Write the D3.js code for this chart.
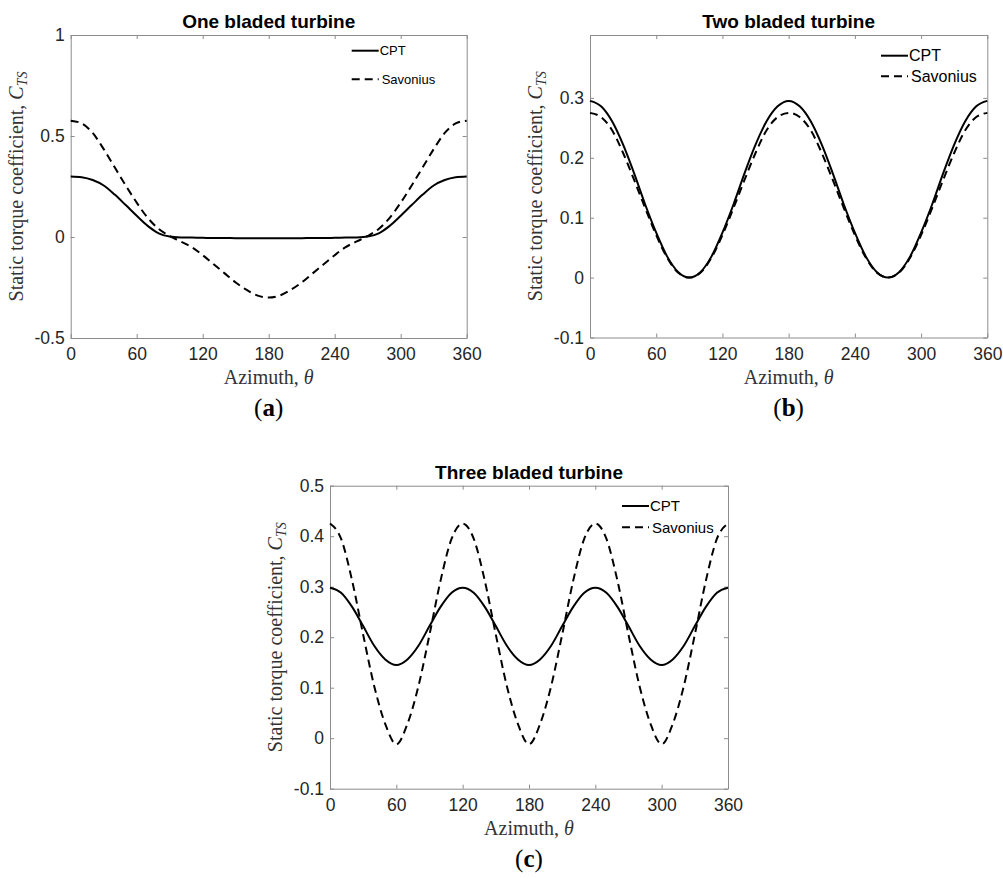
<!DOCTYPE html>
<html>
<head>
<meta charset="utf-8">
<script src="https://cdn.jsdelivr.net/npm/d3@7"></script>
<style>
  body { margin: 0; background: #fff; }
  .tick text { font-family: "Liberation Sans", Arial, sans-serif; fill: #262626; }
  .domain { stroke: #8c8c8c; }
  .tick line { stroke: #8c8c8c; }
</style>
</head>
<body>
<div id="chart"></div>
<script>
// azimuth angle (deg), sampled every 10 degrees
let azimuth = [0, 10, 20, 30, 40, 50, 60, 70, 80, 90, 100, 110, 120, 130, 140, 150, 160, 170, 180,
    190, 200, 210, 220, 230, 240, 250, 260, 270, 280, 290, 300, 310, 320, 330, 340, 350, 360];

// one bladed turbine
let cptOne = [0.300, 0.296, 0.282, 0.255, 0.210, 0.158, 0.105, 0.055, 0.018, 0.002, -0.002, -0.003, -0.004,
    -0.005, -0.005, -0.006, -0.006, -0.006, -0.006, -0.006, -0.006, -0.006, -0.005, -0.005, -0.004, -0.003,
    -0.002, 0.002, 0.018, 0.055, 0.105, 0.158, 0.210, 0.255, 0.282, 0.296, 0.300];
let savOne = [0.576, 0.562, 0.515, 0.435, 0.345, 0.255, 0.170, 0.095, 0.040, 0.005, -0.022, -0.050, -0.090,
    -0.135, -0.180, -0.225, -0.262, -0.290, -0.300, -0.290, -0.262, -0.225, -0.180, -0.135, -0.090, -0.050,
    -0.022, 0.005, 0.040, 0.095, 0.170, 0.255, 0.345, 0.435, 0.515, 0.562, 0.576];

// two bladed turbine
let cptTwo = [0.295, 0.286, 0.261, 0.222, 0.174, 0.122, 0.075, 0.035, 0.009, 0.000, 0.009, 0.035, 0.075,
    0.122, 0.174, 0.222, 0.261, 0.286, 0.295, 0.286, 0.261, 0.222, 0.174, 0.122, 0.075, 0.035, 0.009,
    0.000, 0.009, 0.035, 0.075, 0.122, 0.174, 0.222, 0.261, 0.286, 0.295];
let savTwo = [0.275, 0.268, 0.246, 0.208, 0.163, 0.116, 0.071, 0.033, 0.008, 0.000, 0.008, 0.033, 0.071,
    0.116, 0.163, 0.208, 0.246, 0.268, 0.275, 0.268, 0.246, 0.208, 0.163, 0.116, 0.071, 0.033, 0.008,
    0.000, 0.008, 0.033, 0.071, 0.116, 0.163, 0.208, 0.246, 0.268, 0.275];

// three bladed turbine
let cptThree = [0.298, 0.288, 0.260, 0.222, 0.183, 0.156, 0.145, 0.156, 0.183, 0.222, 0.260, 0.288, 0.298,
    0.288, 0.260, 0.222, 0.183, 0.156, 0.145, 0.156, 0.183, 0.222, 0.260, 0.288, 0.298,
    0.288, 0.260, 0.222, 0.183, 0.156, 0.145, 0.156, 0.183, 0.222, 0.260, 0.288, 0.298];
let savThree = [0.425, 0.395, 0.312, 0.205, 0.103, 0.028, -0.012, 0.028, 0.103, 0.205, 0.312, 0.395, 0.425,
    0.395, 0.312, 0.205, 0.103, 0.028, -0.012, 0.028, 0.103, 0.205, 0.312, 0.395, 0.425,
    0.395, 0.312, 0.205, 0.103, 0.028, -0.012, 0.028, 0.103, 0.205, 0.312, 0.395, 0.425];

let xTicks = [0, 60, 120, 180, 240, 300, 360];
let yTicksOne = [-0.5, 0, 0.5, 1];
let yTicksTwo = [-0.1, 0, 0.1, 0.2, 0.3];
let yTicksThree = [-0.1, 0, 0.1, 0.2, 0.3, 0.4, 0.5];
let titles = ["One bladed turbine", "Two bladed turbine", "Three bladed turbine"];
let tags = ["a", "b", "c"];
let seriesNames = ["CPT", "Savonius"];

let width = 1003;
let height = 879;

let panels = [
    { title: titles[0], tag: tags[0], cpt: cptOne, sav: savOne, yDomain: [-0.5, 1], yTicks: yTicksOne,
      left: 70.7, right: 466.7, top: 35, bottom: 338, leg: { x: 351.7, y: 50.7, gap: 28.6, size: 13 } },
    { title: titles[1], tag: tags[1], cpt: cptTwo, sav: savTwo, yDomain: [-0.1, 0.405], yTicks: yTicksTwo,
      left: 590, right: 987.3, top: 35, bottom: 337.5, leg: { x: 881, y: 55.7, gap: 20.6, size: 16 } },
    { title: titles[2], tag: tags[2], cpt: cptThree, sav: savThree, yDomain: [-0.1, 0.5], yTicks: yTicksThree,
      left: 330, right: 728, top: 485.7, bottom: 788.7, leg: { x: 622, y: 506, gap: 21.3, size: 15 } }
];

let svg = d3.select("#chart")
    .append("svg")
    .attr("width", width)
    .attr("height", height)
    .style("background", "#fff");

const drawPanel = (p) => {
    let x = d3.scaleLinear().domain([0, 360]).range([p.left, p.right]);
    let y = d3.scaleLinear().domain(p.yDomain).range([p.bottom, p.top]);
    let g = svg.append("g");
    let fmt = d => String(d);

    g.append("g")
        .attr("transform", `translate(0,${p.bottom})`)
        .call(d3.axisBottom(x).tickValues(xTicks).tickFormat(fmt).tickSizeInner(-4).tickSizeOuter(0).tickPadding(10))
        .call(a => a.selectAll("text").style("font-size", "17.5px"));
    g.append("g")
        .attr("transform", `translate(0,${p.top})`)
        .call(d3.axisTop(x).tickValues(xTicks).tickFormat("").tickSizeInner(-4).tickSizeOuter(0));
    g.append("g")
        .attr("transform", `translate(${p.left},0)`)
        .call(d3.axisLeft(y).tickValues(p.yTicks).tickFormat(fmt).tickSizeInner(-4).tickSizeOuter(0).tickPadding(6))
        .call(a => a.selectAll("text").style("font-size", "17.5px"));
    g.append("g")
        .attr("transform", `translate(${p.right},0)`)
        .call(d3.axisRight(y).tickValues(p.yTicks).tickFormat("").tickSizeInner(-4).tickSizeOuter(0));

    let line = d3.line()
        .x((d, i) => x(azimuth[i]))
        .y(d => y(d))
        .curve(d3.curveMonotoneX);

    g.append("path").datum(p.cpt)
        .attr("d", line).attr("fill", "none").attr("stroke", "#000").attr("stroke-width", 2);
    g.append("path").datum(p.sav)
        .attr("d", line).attr("fill", "none").attr("stroke", "#000").attr("stroke-width", 2)
        .attr("stroke-dasharray", "8,5");

    // title
    g.append("text")
        .attr("x", (p.left + p.right) / 2).attr("y", p.top - 7)
        .attr("text-anchor", "middle")
        .style("font-family", "'Liberation Sans', Arial, sans-serif")
        .style("font-weight", "bold").style("font-size", "19px")
        .text(p.title);

    // x label
    let xl = g.append("text")
        .attr("x", (p.left + p.right) / 2).attr("y", p.bottom + 46)
        .attr("text-anchor", "middle")
        .style("font-family", "'Liberation Serif', 'Times New Roman', serif")
        .style("font-size", "20px").attr("fill", "#333");
    xl.append("tspan").text("Azimuth, ");
    xl.append("tspan").style("font-style", "italic").text("θ");

    // y label
    let cy = (p.top + p.bottom) / 2;
    let yl = g.append("text")
        .attr("transform", `translate(${p.left - 48},${cy}) rotate(-90)`)
        .attr("text-anchor", "middle")
        .style("font-family", "'Liberation Serif', 'Times New Roman', serif")
        .style("font-size", "20px").attr("fill", "#333");
    yl.append("tspan").text("Static torque coefficient, ");
    yl.append("tspan").style("font-style", "italic").text("C");
    yl.append("tspan").style("font-style", "italic").style("font-size", "14px").attr("dy", 4).text("TS");

    // legend
    seriesNames.forEach((name, i) => {
        let ly = p.leg.y + i * p.leg.gap;
        g.append("line")
            .attr("x1", p.leg.x).attr("x2", p.leg.x + 27)
            .attr("y1", ly).attr("y2", ly)
            .attr("stroke", "#000").attr("stroke-width", 2)
            .attr("stroke-dasharray", i === 1 ? "8,5" : null);
        g.append("text")
            .attr("x", p.leg.x + 28 + i * 2).attr("y", ly)
            .attr("dy", "0.35em")
            .style("font-family", "'Liberation Sans', Arial, sans-serif")
            .style("font-size", p.leg.size + "px").attr("fill", "#000")
            .text(name);
    });

    // sub-figure tag
    let tg = g.append("text")
        .attr("x", (p.left + p.right) / 2).attr("y", p.bottom + 78)
        .attr("text-anchor", "middle")
        .style("font-family", "'Liberation Serif', 'Times New Roman', serif")
        .style("font-size", "25px");
    tg.append("tspan").text("(");
    tg.append("tspan").style("font-weight", "bold").text(p.tag);
    tg.append("tspan").text(")");
}

panels.forEach(drawPanel);
</script>
</body>
</html>
